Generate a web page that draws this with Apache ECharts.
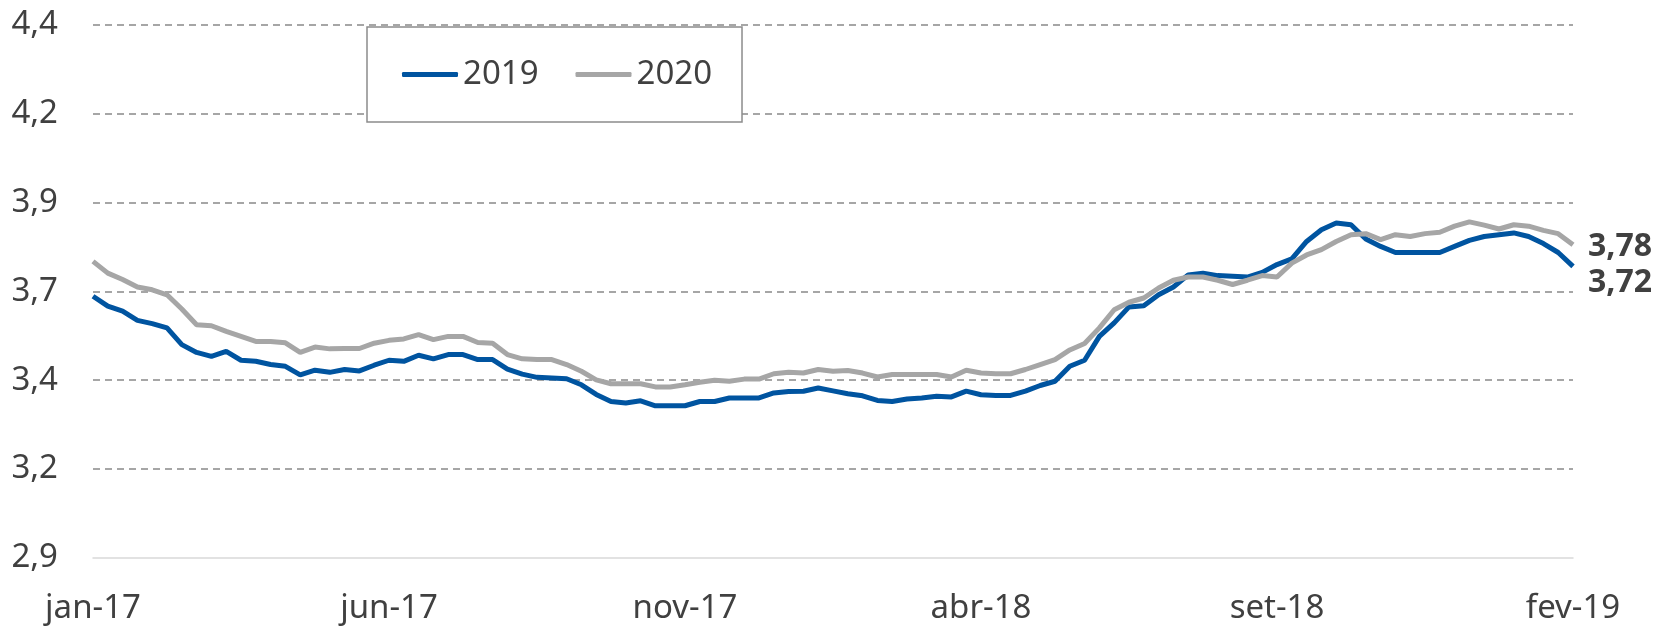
<!DOCTYPE html>
<html>
<head>
<meta charset="utf-8">
<title>Câmbio - expectativas</title>
<script src="https://cdn.jsdelivr.net/npm/echarts@6/dist/echarts.min.js"></script>
<style>
  html, body { margin: 0; padding: 0; background: #fff; }
  #chart { width: 1661px; height: 629px; }
</style>
</head>
<body>
<div id="chart"></div>
<script>
// meses do eixo x (4 leituras por mês, última leitura em fev-19)
const meses = ['jan-17', 'fev-17', 'mar-17', 'abr-17', 'mai-17', 'jun-17', 'jul-17', 'ago-17', 'set-17', 'out-17', 'nov-17', 'dez-17',
  'jan-18', 'fev-18', 'mar-18', 'abr-18', 'mai-18', 'jun-18', 'jul-18', 'ago-18', 'set-18', 'out-18', 'nov-18', 'dez-18',
  'jan-19', 'fev-19']
const semanasPorMes = 4
// rótulos mostrados no eixo x
const rotulosX = ['jan-17', 'jun-17', 'nov-17', 'abr-18', 'set-18', 'fev-19']

// expectativa para 2019
const serie2019 = [
  3.636, 3.608, 3.594, 3.568, 3.559, 3.547, 3.500, 3.478, 3.467, 3.481,
  3.456, 3.453, 3.444, 3.439, 3.415, 3.428, 3.422, 3.430, 3.426, 3.442,
  3.456, 3.453, 3.470, 3.460, 3.472, 3.472, 3.458, 3.458, 3.431, 3.417,
  3.408, 3.406, 3.404, 3.387, 3.360, 3.340, 3.336, 3.342, 3.328, 3.328,
  3.328, 3.340, 3.340, 3.350, 3.350, 3.350, 3.364, 3.368, 3.369, 3.378,
  3.370, 3.362, 3.356, 3.343, 3.340, 3.347, 3.350, 3.355, 3.353, 3.369,
  3.359, 3.357, 3.357, 3.369, 3.385, 3.397, 3.439, 3.456, 3.523, 3.561,
  3.606, 3.609, 3.640, 3.662, 3.696, 3.701, 3.694, 3.692, 3.690, 3.703,
  3.725, 3.741, 3.790, 3.823, 3.842, 3.837, 3.797, 3.776, 3.759, 3.759,
  3.759, 3.759, 3.776, 3.793, 3.804, 3.809, 3.814, 3.804, 3.784, 3.759,
  3.720
]
// expectativa para 2020
const serie2020 = [
  3.734, 3.701, 3.683, 3.662, 3.654, 3.640, 3.600, 3.556, 3.553, 3.537,
  3.523, 3.509, 3.509, 3.505, 3.478, 3.493, 3.488, 3.489, 3.489, 3.504,
  3.512, 3.516, 3.528, 3.514, 3.523, 3.523, 3.506, 3.504, 3.472, 3.460,
  3.458, 3.458, 3.444, 3.425, 3.401, 3.390, 3.390, 3.390, 3.381, 3.381,
  3.387, 3.394, 3.400, 3.397, 3.403, 3.403, 3.418, 3.422, 3.420, 3.430,
  3.425, 3.427, 3.420, 3.409, 3.416, 3.416, 3.416, 3.416, 3.409, 3.428,
  3.420, 3.418, 3.418, 3.430, 3.444, 3.458, 3.485, 3.503, 3.547, 3.598,
  3.619, 3.631, 3.659, 3.681, 3.690, 3.690, 3.681, 3.669, 3.681, 3.694,
  3.690, 3.729, 3.752, 3.767, 3.790, 3.809, 3.812, 3.795, 3.809, 3.804,
  3.812, 3.816, 3.833, 3.845, 3.836, 3.825, 3.837, 3.833, 3.821, 3.812,
  3.781
]

// categorias: "mes|semana"
const categorias = []
for (let m = 0; m < meses.length - 1; m++) {
  for (let s = 1; s <= semanasPorMes; s++) {
    categorias.push(meses[m] + '|' + s)
  }
}
categorias.push(meses[meses.length - 1] + '|1')

const fonte = 'Noto Sans'
const corTexto = '#404040'
const virgula = v => (Math.round(v * 100 + 1e-6) / 100).toFixed(2).replace('.', ',')

const myChart = echarts.init(document.getElementById('chart'), null, { renderer: 'canvas' })
const option = {
  animation: false,
  backgroundColor: '#fff',
  color: ['#0054a0', '#a6a6a6'],
  grid: {
    left: 93,
    right: 88,
    top: 24.5,
    bottom: 71,
    containLabel: false,
    outerBoundsMode: 'none'
  },
  legend: {
    left: 367,
    top: 27,
    orient: 'horizontal',
    padding: [31, 30, 31, 35],
    itemGap: 37,
    itemWidth: 56,
    itemHeight: 5,
    icon: 'roundRect',
    backgroundColor: '#fff',
    borderColor: '#8c8c8c',
    borderWidth: 1.5,
    borderRadius: 0,
    textStyle: {
      fontFamily: fonte,
      fontSize: 33,
      color: corTexto
    },
    data: ['2019', '2020']
  },
  xAxis: {
    type: 'category',
    boundaryGap: false,
    data: categorias,
    axisTick: { show: false },
    axisLine: {
      show: true,
      lineStyle: { color: '#d9d9d9', width: 1.5 }
    },
    splitLine: { show: false },
    axisLabel: {
      margin: 34,
      fontFamily: fonte,
      fontSize: 33,
      color: corTexto,
      interval: function (idx, nome) {
        const partes = nome.split('|')
        return partes[1] === '1' && rotulosX.indexOf(partes[0]) >= 0
      },
      formatter: function (nome) {
        return nome.split('|')[0]
      }
    }
  },
  yAxis: {
    type: 'value',
    min: 2.9,
    max: 4.4,
    interval: 0.25,
    axisLine: { show: false },
    axisTick: { show: false },
    splitLine: {
      show: true,
      showMinLine: false,
      lineStyle: { color: '#a6a6a6', width: 2, type: [7, 5] }
    },
    axisLabel: {
      margin: 35,
      fontFamily: fonte,
      fontSize: 33,
      color: corTexto,
      formatter: function (v) {
        return (Math.round(v * 10 + 1e-6) / 10).toFixed(1).replace('.', ',')
      }
    }
  },
  series: [
    {
      name: '2019',
      type: 'line',
      data: serie2019,
      showSymbol: false,
      symbol: 'none',
      lineStyle: { width: 5, color: '#0054a0' },
      z: 2,
      endLabel: {
        show: true,
        distance: 15,
        offset: [0, 17],
        fontFamily: fonte,
        fontSize: 32,
        fontWeight: 'bold',
        color: corTexto,
        formatter: p => virgula(p.value)
      }
    },
    {
      name: '2020',
      type: 'line',
      data: serie2020,
      showSymbol: false,
      symbol: 'none',
      lineStyle: { width: 5, color: '#a6a6a6' },
      z: 3,
      endLabel: {
        show: true,
        distance: 15,
        offset: [0, 2],
        fontFamily: fonte,
        fontSize: 32,
        fontWeight: 'bold',
        color: corTexto,
        formatter: p => virgula(p.value)
      }
    }
  ]
}
myChart.setOption(option)
</script>
</body>
</html>
